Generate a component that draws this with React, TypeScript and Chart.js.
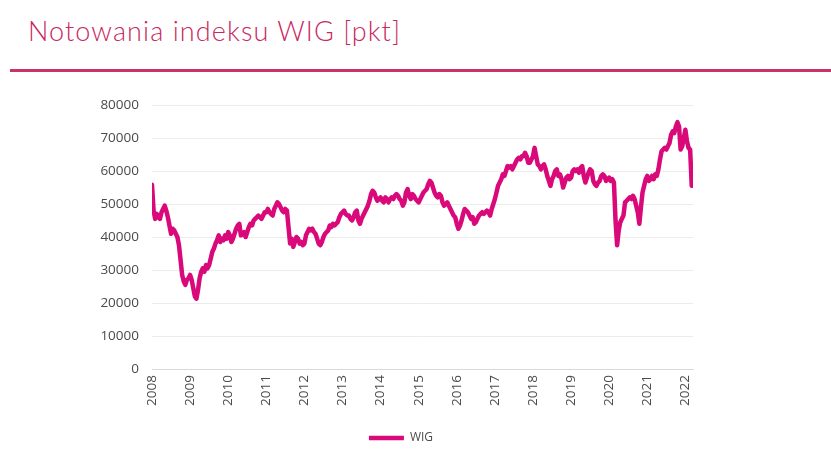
import React, { useEffect, useRef } from "react";
import { Chart, registerables } from "chart.js";

Chart.register(...registerables);

// Semi-monthly readings (1st and 15th of each month), index points
const START_YEAR = 2008;
const STEPS_PER_YEAR = 24;

const wig2008 = [55800, 48000, 45500, 47000, 46000, 45500, 47500, 48500, 49500, 48000, 46000, 43500, 41000, 42500, 42000, 41000, 40000, 37500, 33000, 28500, 26500, 25500, 27000, 27500];
const wig2009 = [28500, 27000, 24500, 22000, 21300, 24000, 27500, 29500, 30500, 29500, 31500, 30500, 31500, 33500, 35500, 36500, 38000, 39000, 40500, 38500, 39500, 39000, 40500, 39500];
const wig2010 = [41500, 40500, 38500, 39500, 41000, 42500, 43500, 44000, 40500, 41000, 41500, 40000, 41500, 43000, 44000, 43500, 45000, 45500, 46000, 46500, 46000, 45500, 46500, 47500];
const wig2011 = [47500, 48500, 47500, 47000, 46500, 48500, 49500, 50500, 50000, 49000, 48000, 47500, 48500, 48000, 43000, 38000, 39500, 37000, 38500, 40000, 39500, 38000, 38500, 37500];
const wig2012 = [38000, 40500, 41500, 42500, 42000, 42500, 41500, 41000, 39500, 38000, 37500, 38500, 40000, 41000, 41500, 42000, 43500, 43000, 44000, 43500, 44000, 44500, 46000, 47000];
const wig2013 = [47500, 48000, 47000, 46500, 46500, 45500, 45000, 46000, 47500, 48000, 45000, 44000, 45500, 46500, 47500, 48500, 49500, 51000, 53000, 54000, 53500, 52000, 51000, 51500];
const wig2014 = [52000, 51000, 50500, 52000, 51500, 50500, 51500, 52000, 51500, 52500, 53000, 52500, 51500, 51000, 49500, 50500, 53500, 54500, 52500, 51500, 53000, 52500, 51500, 51000];
const wig2015 = [50500, 51500, 52500, 53500, 54000, 54500, 56000, 57000, 56500, 55000, 53500, 52500, 52000, 53000, 52500, 50500, 49500, 50000, 50500, 49500, 48500, 47500, 46500, 46000];
const wig2016 = [44000, 42500, 43500, 45000, 47000, 48500, 48000, 47500, 46500, 45500, 46000, 44000, 44500, 45500, 46500, 47000, 47500, 47000, 47500, 48000, 47500, 46500, 48500, 50000];
const wig2017 = [51500, 53500, 55500, 56500, 57500, 59000, 58500, 60000, 61500, 61000, 61500, 60500, 61500, 62500, 63500, 64000, 63500, 64500, 64500, 65500, 64500, 62500, 62500, 63500];
const wig2018 = [64500, 67000, 64500, 62000, 61500, 60500, 61500, 62000, 60500, 58500, 57000, 55500, 57500, 58500, 60000, 60500, 58500, 59000, 57500, 55000, 56500, 58000, 58500, 57500];
const wig2019 = [58000, 60000, 60500, 60000, 60500, 59500, 61000, 61500, 58500, 56500, 58000, 59500, 60500, 60000, 57000, 56000, 55500, 56500, 57000, 58500, 59000, 58500, 57000, 57500];
const wig2020 = [58000, 57000, 57500, 56500, 45000, 37500, 42000, 44500, 45500, 46500, 50500, 51000, 51500, 52000, 51500, 52500, 51500, 49500, 47500, 44000, 49000, 53500, 55500, 57500];
const wig2021 = [58500, 57000, 57500, 58500, 57500, 59000, 58500, 60500, 63500, 66000, 66500, 67000, 66500, 67500, 68500, 71000, 72000, 71500, 73500, 74800, 73500, 66500, 67500, 70000];
const wig2022 = [72500, 69000, 67000, 66500, 55500];

const yTickValues = [0, 10000, 20000, 30000, 40000, 50000, 60000, 70000, 80000];
const xTickYears = [2008, 2009, 2010, 2011, 2012, 2013, 2014, 2015, 2016, 2017, 2018, 2019, 2020, 2021, 2022];
const seriesLabel = "WIG";
const titleText = "Notowania indeksu WIG [pkt]";

const LINE_COLOR = "#D9097A";
const TEXT_COLOR = "#4a4a4a";
const TICK_FONT = { family: "'Open Sans', sans-serif", size: 13.5 };

export default function App() {
  const canvasRef = useRef<HTMLCanvasElement | null>(null);

  useEffect(() => {
    const values = [
      ...wig2008, ...wig2009, ...wig2010, ...wig2011, ...wig2012, ...wig2013, ...wig2014,
      ...wig2015, ...wig2016, ...wig2017, ...wig2018, ...wig2019, ...wig2020, ...wig2021, ...wig2022,
    ];
    const points = values.map((v, i) => ({ x: START_YEAR + i / STEPS_PER_YEAR, y: v }));

    const chart = new Chart(canvasRef.current as HTMLCanvasElement, {
      type: "line",
      data: {
        datasets: [
          {
            label: seriesLabel,
            data: points,
            borderColor: LINE_COLOR,
            backgroundColor: LINE_COLOR,
            borderWidth: 4.5,
            pointRadius: 0,
            tension: 0,
            borderJoinStyle: "round",
            borderCapStyle: "round",
          },
        ],
      },
      options: {
        responsive: false,
        maintainAspectRatio: false,
        animation: false,
        layout: { padding: { top: 105, left: 0, right: 29, bottom: 0 } },
        plugins: {
          legend: {
            position: "bottom",
            labels: {
              usePointStyle: true,
              pointStyle: "line",
              pointStyleWidth: 35,
              boxHeight: 12,
              color: TEXT_COLOR,
              font: { family: "'Open Sans', sans-serif", size: 12 },
              padding: 4,
            },
          },
          tooltip: { enabled: false },
        },
        scales: {
          x: {
            type: "linear",
            min: 2008,
            max: 2022.2,
            afterBuildTicks: (s: any) => {
              s.ticks = xTickYears.map((v) => ({ value: v }));
            },
            ticks: {
              autoSkip: false,
              minRotation: 90,
              maxRotation: 90,
              padding: 6,
              color: TEXT_COLOR,
              font: TICK_FONT,
              callback: (v: any) => String(v),
            },
            grid: { display: false, drawTicks: false },
            border: { display: true, color: "#d9d9d9", width: 1 },
            afterFit: (s: any) => {
              s.height = 59;
            },
          },
          y: {
            min: 0,
            max: 80000,
            afterBuildTicks: (s: any) => {
              s.ticks = yTickValues.map((v) => ({ value: v }));
            },
            ticks: {
              padding: 13,
              color: TEXT_COLOR,
              font: TICK_FONT,
              callback: (v: any) => String(v),
            },
            grid: { color: "#ececec", drawTicks: false, lineWidth: 1 },
            border: { display: false },
            afterFit: (s: any) => {
              s.width = 152;
            },
          },
          yRight: {
            position: "right",
            display: true,
            ticks: { display: false },
            grid: { display: false, drawTicks: false },
            border: { display: false },
            afterFit: (s: any) => {
              s.width = 109;
            },
          },
        },
      },
    });
    return () => chart.destroy();
  }, []);

  return (
    <div style={{ position: "fixed", left: 0, top: 0, width: 831, height: 454, background: "#fff", overflow: "hidden" }}>
      <div
        style={{
          position: "absolute",
          left: 28,
          top: 15,
          fontFamily: "Lato, 'Open Sans', sans-serif",
          fontWeight: 300,
          fontSize: 27,
          letterSpacing: "1.1px",
          color: "#C8285F",
          whiteSpace: "nowrap",
          lineHeight: "32px",
        }}
      >
        {titleText}
      </div>
      <div style={{ position: "absolute", left: 10, top: 69, width: 821, height: 3, background: "#C8336A" }} />
      <canvas ref={canvasRef} width={831} height={454} style={{ position: "absolute", left: 0, top: 0, width: 831, height: 454 }} />
    </div>
  );
}
